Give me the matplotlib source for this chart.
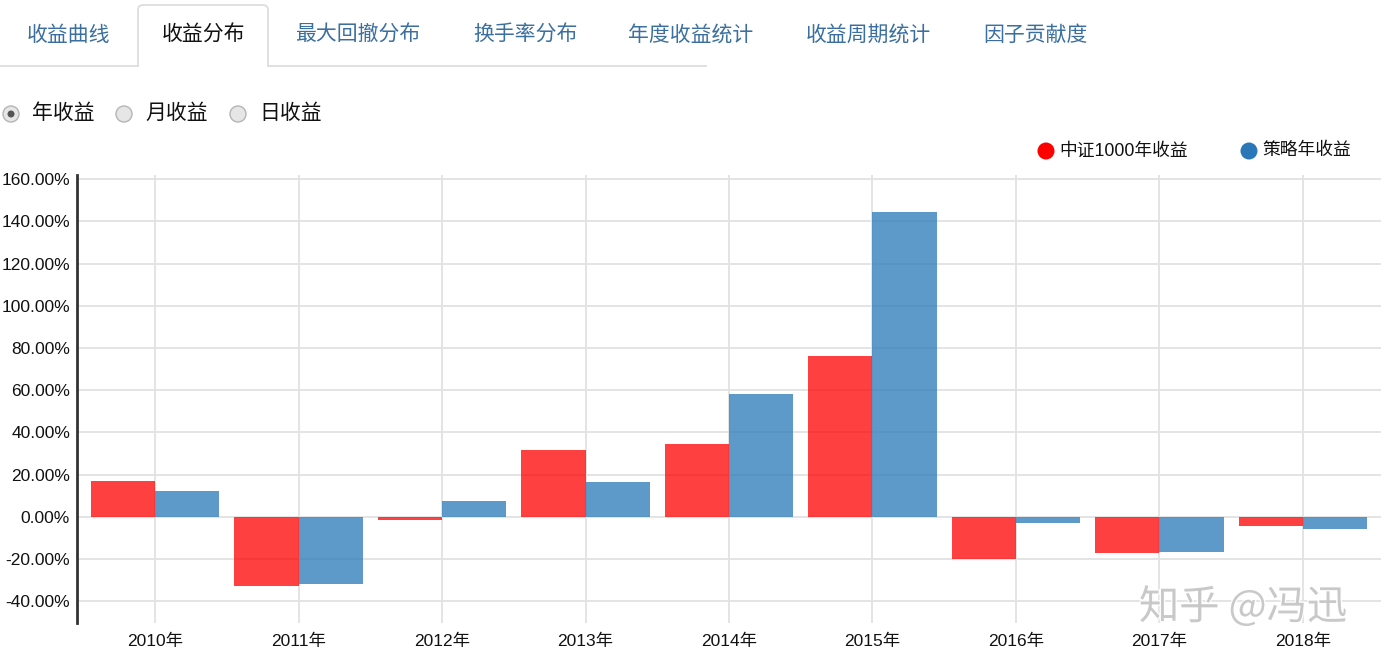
import matplotlib
matplotlib.use("Agg")
import matplotlib.pyplot as plt
from matplotlib.patches import FancyBboxPatch, Rectangle, Circle
import matplotlib.patheffects as pe
import numpy as np

# ---------------- data ----------------
years = ["2010年", "2011年", "2012年", "2013年", "2014年", "2015年", "2016年", "2017年", "2018年"]
csi1000 = [16.9, -32.7, -1.4, 31.6, 34.5, 76.1, -19.9, -17.3, -4.4]
strategy = [12.2, -31.7, 7.6, 16.4, 58.3, 144.6, -3.1, -16.6, -6.0]
series_names = ["中证1000年收益", "策略年收益"]
yticks = [-40, -20, 0, 20, 40, 60, 80, 100, 120, 140, 160]
tabs = ["收益曲线", "收益分布", "最大回撤分布", "换手率分布", "年度收益统计", "收益周期统计", "因子贡献度"]
radios = ["年收益", "月收益", "日收益"]

W, H = 1387, 668
CJK = ["Liberation Sans", "Noto Sans CJK SC", "DejaVu Sans"]
plt.rcParams["font.family"] = CJK

fig = plt.figure(figsize=(W / 100, H / 100), dpi=100)
fig.patch.set_facecolor("white")

# ---------------- main chart ----------------
ax_l, ax_r, ax_t, ax_b = 77, 1381, 175, 623
ax = fig.add_axes([ax_l / W, (H - ax_b) / H, (ax_r - ax_l) / W, (ax_b - ax_t) / H])
x = np.arange(len(years))
bw = 0.448
red = "#ff0000"
blue = "#2878b8"
ax.bar(x - bw / 2, csi1000, width=bw, color=red, alpha=0.75, zorder=3, linewidth=0)
ax.bar(x + bw / 2, strategy, width=bw, color=blue, alpha=0.75, zorder=3, linewidth=0)

ax.set_xlim(-0.544, 8.544)
ax.set_ylim(-50.4, 162)
ax.set_yticks(yticks)
ax.set_yticklabels([f"{v:.2f}%" for v in yticks])
ax.set_xticks(x)
ax.set_xticklabels(years)
ax.tick_params(axis="both", length=0, labelsize=12.5, colors="#111111")
ax.tick_params(axis="y", pad=5)
ax.tick_params(axis="x", pad=8)
ax.grid(True, color="#e2e2e2", linewidth=1.3, zorder=0)
for s in ["top", "right", "bottom"]:
    ax.spines[s].set_visible(False)
ax.spines["left"].set_color("#333333")
ax.spines["left"].set_linewidth(2)

# ---------------- overlay (pixel coords) ----------------
ov = fig.add_axes([0, 0, 1, 1])
ov.set_xlim(0, W)
ov.set_ylim(H, 0)
ov.axis("off")

# tab bar
ov.plot([0, 138], [66, 66], color="#dddddd", lw=1.3)
ov.plot([268, 706], [66, 66], color="#dddddd", lw=1.3)
tab_box = FancyBboxPatch((138, 5), 130, 80, boxstyle="round,pad=0,rounding_size=5",
                         facecolor="white", edgecolor="#dddddd", lw=1.3)
ov.add_patch(tab_box)
ov.add_patch(Rectangle((136, 66.8), 134, 20, facecolor="white", edgecolor="none", zorder=3))
tab_centers = [68, 203, 358, 525, 691, 868, 1035]
for i, (t, cx) in enumerate(zip(tabs, tab_centers)):
    ov.text(cx, 35, t, ha="center", va="center", fontsize=15,
            color="#111111" if i == 1 else "#3a6f9f", zorder=4)

# radio buttons
radio_x = [11, 124, 238]
for i, (lab, rx) in enumerate(zip(radios, radio_x)):
    ov.add_patch(Circle((rx, 114), 8, facecolor="#e6e6e6", edgecolor="#b5b5b5", lw=1))
    if i == 0:
        ov.add_patch(Circle((rx, 114), 3.5, facecolor="#555555", edgecolor="none"))
    ov.text(rx + 21, 113, lab, ha="left", va="center", fontsize=15, color="#111111")

# legend
leg_x = [1046, 1249]
for name, lx, c in zip(series_names, leg_x, [red, "#2a78b8"]):
    ov.add_patch(Circle((lx, 151), 8.5, facecolor=c, edgecolor="none"))
    ov.text(lx + 13, 151, name, ha="left", va="center", fontsize=12.8, color="#111111")

# watermark
ov.text(1243, 607, "知乎 @冯迅", ha="center", va="center", fontsize=29, color="#c4c4c4",
        family=["Noto Sans CJK SC", "DejaVu Sans"], alpha=0.9,
        path_effects=[pe.withStroke(linewidth=2, foreground="white")])

fig.savefig("out.png", dpi=100, facecolor="white")
